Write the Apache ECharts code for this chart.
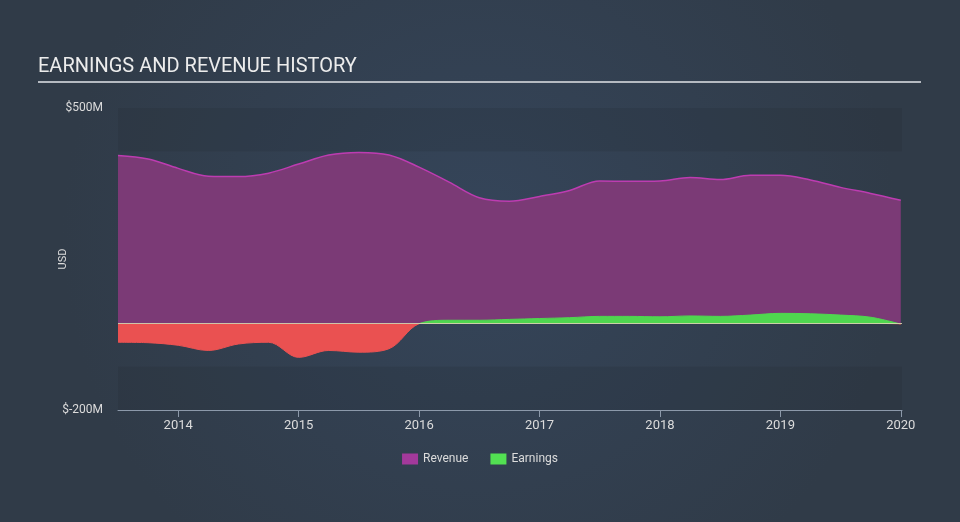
<!DOCTYPE html>
<html>
<head>
<meta charset="utf-8">
<script src="https://cdn.jsdelivr.net/npm/echarts@6/dist/echarts.min.js"></script>
<style>
html,body{margin:0;padding:0;background:#323f4e;}
#chart{width:960px;height:522px;}
</style>
</head>
<body>
<div id="chart"></div>
<script>
// Quarterly time points (decimal years)
const periods = [2013.5, 2013.75, 2014, 2014.25, 2014.5, 2014.75, 2015, 2015.25, 2015.5, 2015.75,
  2016, 2016.25, 2016.5, 2016.75, 2017, 2017.25, 2017.5, 2017.75, 2018, 2018.25, 2018.5, 2018.75,
  2019, 2019.25, 2019.5, 2019.75, 2020];
// Values in $M
const revenue = [390, 382, 360, 342, 341, 349, 370, 391, 397, 391,
  363, 328, 292, 284, 295, 309, 331, 330, 331, 339, 334, 344,
  344, 333, 316, 302, 286];
const earnings = [-43, -44, -50, -62, -47, -43, -78, -62, -66, -58,
  0, 8, 8, 10, 12, 14, 17, 17, 16, 18, 17, 20,
  24, 23, 20, 15, -1];
const yearTicks = [2014, 2015, 2016, 2017, 2018, 2019, 2020];
const yTickLabels = [-200, 500];
const yMin = -200, yMax = 500;

const W = 960, H = 522;
const gridCfg = {left: 118, right: 58, top: 108, bottom: 112};
const plotTop = gridCfg.top, plotBottom = H - gridCfg.bottom;
const zeroOffset = yMax / (yMax - yMin); // position of 0 within the plot height

const chart = echarts.init(document.getElementById('chart'), null, {renderer: 'canvas'});
const revData = periods.map((p, i) => [p, revenue[i]]);
const earnData = periods.map((p, i) => [p, earnings[i]]);

const posNeg = {
  type: 'linear', global: true, x: 0, y: plotTop, x2: 0, y2: plotBottom,
  colorStops: [
    {offset: 0, color: '#4fd64f'}, {offset: zeroOffset, color: '#4fd64f'},
    {offset: zeroOffset, color: '#ea5151'}, {offset: 1, color: '#ea5151'}
  ]
};

chart.setOption({
  backgroundColor: {
    type: 'radial', x: 0.5, y: 0.45, r: 0.8,
    colorStops: [{offset: 0, color: '#35455a'}, {offset: 1, color: '#303b48'}]
  },
  textStyle: {fontFamily: 'Roboto'},
  title: {
    text: 'EARNINGS AND REVENUE HISTORY',
    left: 33, top: 52,
    textStyle: {color: '#ececec', fontSize: 20, fontWeight: 'normal', fontFamily: 'Roboto'}
  },
  graphic: [{
    type: 'line', shape: {x1: 38, y1: 82, x2: 921, y2: 82},
    style: {stroke: '#b5bac1', lineWidth: 2}
  }],
  legend: {
    bottom: 52, left: 'center',
    itemWidth: 16, itemHeight: 11, itemGap: 22,
    icon: 'rect',
    textStyle: {color: '#dcdcdc', fontSize: 12, fontFamily: 'Roboto'},
    data: ['Revenue', 'Earnings']
  },
  grid: gridCfg,
  xAxis: {
    type: 'value', min: 2013.5, max: 2020.01,
    splitLine: {show: false},
    axisLine: {show: true, onZero: false, lineStyle: {color: '#8c99aa', width: 1}},
    axisTick: {show: true, customValues: yearTicks, length: 7, lineStyle: {color: '#8c99aa'}},
    axisLabel: {customValues: yearTicks, color: '#dcdcdc', fontSize: 13, margin: 9,
      formatter: v => String(Math.round(v))}
  },
  yAxis: {
    type: 'value', min: yMin, max: yMax,
    name: 'USD', nameLocation: 'middle', nameGap: 49, nameMoveOverlap: false,
    nameTextStyle: {color: '#dcdcdc', fontSize: 11},
    splitLine: {show: false},
    axisLine: {show: false}, axisTick: {show: false},
    axisLabel: {customValues: yTickLabels, color: '#dcdcdc', fontSize: 12, margin: 15,
      formatter: v => '$' + v + 'M'}
  },
  series: [
    {
      name: 'Revenue', type: 'line', data: revData, smooth: 0.35, symbol: 'none',
      itemStyle: {color: '#a3399b'},
      lineStyle: {color: '#bd3cb1', width: 1.5},
      areaStyle: {color: '#7b3a76', opacity: 1},
      markArea: {
        silent: true,
        itemStyle: {color: 'rgba(28,36,46,0.16)'},
        data: [
          [{yAxis: 400}, {yAxis: 500}],
          [{yAxis: -200}, {yAxis: -100}]
        ]
      },
      z: 2
    },
    {
      name: 'Earnings', type: 'line', data: earnData, smooth: 0.35, symbol: 'none',
      itemStyle: {color: '#52e052'},
      lineStyle: {width: 1, color: posNeg},
      areaStyle: {opacity: 1, color: posNeg},
      markLine: {
        silent: true, symbol: 'none', label: {show: false},
        lineStyle: {color: 'rgba(225,215,180,0.85)', width: 1, type: 'solid'},
        data: [{yAxis: 0}]
      },
      z: 3
    }
  ]
});
</script>
</body>
</html>
